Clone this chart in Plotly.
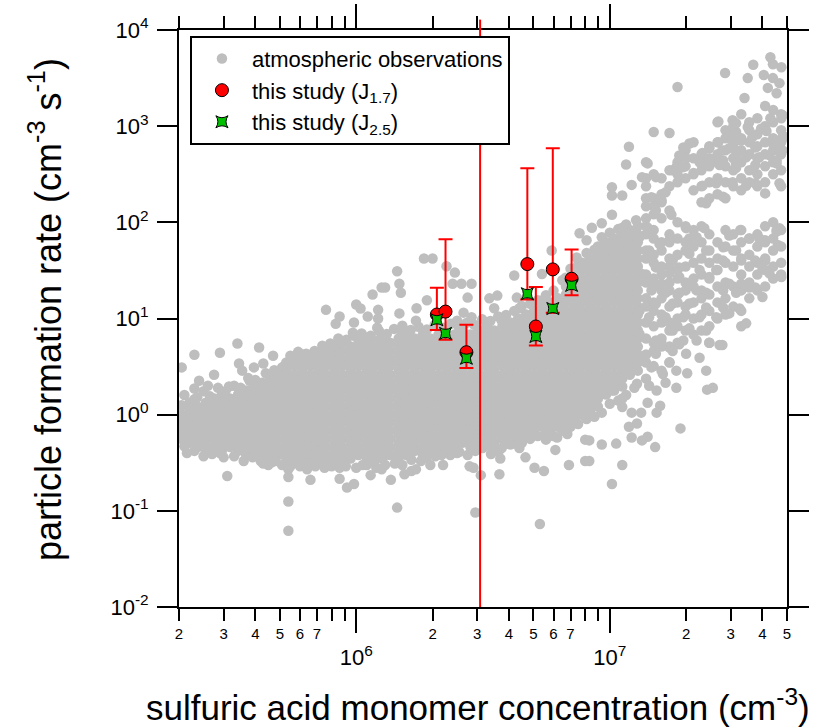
import plotly.graph_objects as go

# ---------------- this study ----------------
conc = [2.08e6, 2.25e6, 2.72e6, 4.73e6, 5.11e6, 5.96e6, 7.07e6]
j17 = [11.0, 11.8, 4.46, 36.8, 8.26, 32.4, 25.9]
j17_upper = [20.9, 66.5, 8.6, 365, 21.2, 590, 52.3]
j17_lower = [7.6, 6.0, 3.06, 15.8, 5.24, 11.5, 17.4]
j25 = [9.7, 7.0, 3.86, 18.1, 6.5, 12.7, 22.1]
run_line_conc = [3.08e6]

# ---------------- atmospheric observations ----------------
obs_core_left = [
    (2.05e5, [1.0, 0.83, 0.68, 0.56]),
    (2.2e5, [1.33, 1.1, 0.91, 0.75, 0.62, 0.51]),
    (2.37e5, [1.21, 1.0, 0.83, 0.68, 0.56, 0.46]),
    (2.55e5, [1.33, 1.1, 0.91, 0.75, 0.62, 0.51, 0.42]),
    (2.75e5, [1.47, 1.21, 1.0, 0.83, 0.68, 0.56, 0.46]),
    (2.95e5, [1.62, 1.33, 1.1, 0.91, 0.75, 0.62, 0.51, 0.42]),
    (3.18e5, [1.47, 1.21, 1.0, 0.83, 0.68, 0.56, 0.46]),
    (3.42e5, [1.62, 1.33, 1.1, 0.91, 0.75, 0.62, 0.51, 0.42]),
    (3.68e5, [1.78, 1.47, 1.21, 1.0, 0.83, 0.68, 0.56, 0.46, 0.38]),
    (3.95e5, [1.96, 1.62, 1.33, 1.1, 0.91, 0.75, 0.62, 0.51, 0.42]),
    (4.25e5, [2.15, 1.78, 1.47, 1.21, 1.0, 0.83, 0.68, 0.56, 0.46, 0.38]),
    (4.57e5, [2.37, 1.96, 1.62, 1.33, 1.1, 0.91, 0.75, 0.62, 0.51, 0.42, 0.35]),
    (4.92e5, [2.6, 2.15, 1.78, 1.47, 1.21, 1.0, 0.83, 0.68, 0.56, 0.46, 0.38]),
    (5.3e5, [3.48, 2.87, 2.37, 1.96, 1.62, 1.33, 1.1, 0.91, 0.75, 0.62, 0.51, 0.42, 0.35]),
    (5.7e5, [3.8, 3.2, 2.6, 2.15, 1.78, 1.47, 1.21, 1.0, 0.83, 0.68, 0.56, 0.46, 0.38, 0.32]),
    (6.13e5, [4.22, 3.48, 2.87, 2.37, 1.96, 1.62, 1.33, 1.1, 0.91, 0.75, 0.62, 0.51, 0.42, 0.35]),
    (6.6e5, [3.8, 3.2, 2.6, 2.15, 1.78, 1.47, 1.21, 1.0, 0.83, 0.68, 0.56, 0.46, 0.38, 0.32]),
    (7.1e5, [4.22, 3.48, 2.87, 2.37, 1.96, 1.62, 1.33, 1.1, 0.91, 0.75, 0.62, 0.51, 0.42, 0.35]),
    (7.6e5, [4.6, 3.8, 3.2, 2.6, 2.15, 1.78, 1.47, 1.21, 1.0, 0.83, 0.68, 0.56, 0.46, 0.38, 0.32]),
    (8.2e5, [5.1, 4.22, 3.48, 2.87, 2.37, 1.96, 1.62, 1.33, 1.1, 0.91, 0.75, 0.62, 0.51, 0.42, 0.35]),
    (8.8e5, [5.6, 4.6, 3.8, 3.2, 2.6, 2.15, 1.78, 1.47, 1.21, 1.0, 0.83, 0.68, 0.56, 0.46, 0.38, 0.32]),
    (9.5e5, [5.1, 4.22, 3.48, 2.87, 2.37, 1.96, 1.62, 1.33, 1.1, 0.91, 0.75, 0.62, 0.51, 0.42, 0.35]),
]

obs_core_mid = [
    (1.02e6, [5.6, 4.6, 3.8, 3.2, 2.6, 2.15, 1.78, 1.47, 1.21, 1.0, 0.83, 0.68, 0.56, 0.46, 0.38]),
    (1.1e6, [6.2, 5.1, 4.22, 3.48, 2.87, 2.37, 1.96, 1.62, 1.33, 1.1, 0.91, 0.75, 0.62, 0.51, 0.42, 0.35]),
    (1.18e6, [5.6, 4.6, 3.8, 3.2, 2.6, 2.15, 1.78, 1.47, 1.21, 1.0, 0.83, 0.68, 0.56, 0.46, 0.38, 0.32]),
    (1.27e6, [6.2, 5.1, 4.22, 3.48, 2.87, 2.37, 1.96, 1.62, 1.33, 1.1, 0.91, 0.75, 0.62, 0.51, 0.42, 0.35]),
    (1.36e6, [5.6, 4.6, 3.8, 3.2, 2.6, 2.15, 1.78, 1.47, 1.21, 1.0, 0.83, 0.68, 0.56, 0.46, 0.38]),
    (1.47e6, [6.2, 5.1, 4.22, 3.48, 2.87, 2.37, 1.96, 1.62, 1.33, 1.1, 0.91, 0.75, 0.62, 0.51, 0.42, 0.35]),
    (1.58e6, [6.8, 5.6, 4.6, 3.8, 3.2, 2.6, 2.15, 1.78, 1.47, 1.21, 1.0, 0.83, 0.68, 0.56, 0.46, 0.38]),
    (1.7e6, [6.2, 5.1, 4.22, 3.48, 2.87, 2.37, 1.96, 1.62, 1.33, 1.1, 0.91, 0.75, 0.62, 0.51, 0.42]),
    (1.83e6, [6.8, 5.6, 4.6, 3.8, 3.2, 2.6, 2.15, 1.78, 1.47, 1.21, 1.0, 0.83, 0.68, 0.56, 0.46, 0.38]),
    (1.96e6, [6.2, 5.1, 4.22, 3.48, 2.87, 2.37, 1.96, 1.62, 1.33, 1.1, 0.91, 0.75, 0.62, 0.51, 0.42]),
    (2.11e6, [6.8, 5.6, 4.6, 3.8, 3.2, 2.6, 2.15, 1.78, 1.47, 1.21, 1.0, 0.83, 0.68, 0.56, 0.46]),
    (2.27e6, [6.2, 5.1, 4.22, 3.48, 2.87, 2.37, 1.96, 1.62, 1.33, 1.1, 0.91, 0.75, 0.62, 0.51, 0.42]),
    (2.44e6, [6.8, 5.6, 4.6, 3.8, 3.2, 2.6, 2.15, 1.78, 1.47, 1.21, 1.0, 0.83, 0.68, 0.56, 0.46]),
    (2.62e6, [7.5, 6.2, 5.1, 4.22, 3.48, 2.87, 2.37, 1.96, 1.62, 1.33, 1.1, 0.91, 0.75, 0.62, 0.51]),
    (2.82e6, [6.8, 5.6, 4.6, 3.8, 3.2, 2.6, 2.15, 1.78, 1.47, 1.21, 1.0, 0.83, 0.68, 0.56, 0.46]),
    (3.03e6, [7.5, 6.2, 5.1, 4.22, 3.48, 2.87, 2.37, 1.96, 1.62, 1.33, 1.1, 0.91, 0.75, 0.62, 0.51]),
    (3.26e6, [8.3, 6.8, 5.6, 4.6, 3.8, 3.2, 2.6, 2.15, 1.78, 1.47, 1.21, 1.0, 0.83, 0.68, 0.56]),
    (3.5e6, [7.5, 6.2, 5.1, 4.22, 3.48, 2.87, 2.37, 1.96, 1.62, 1.33, 1.1, 0.91, 0.75, 0.62, 0.51]),
    (3.77e6, [8.3, 6.8, 5.6, 4.6, 3.8, 3.2, 2.6, 2.15, 1.78, 1.47, 1.21, 1.0, 0.83, 0.68, 0.56]),
    (4.05e6, [9.1, 7.5, 6.2, 5.1, 4.22, 3.48, 2.87, 2.37, 1.96, 1.62, 1.33, 1.1, 0.91, 0.75, 0.62]),
    (4.35e6, [10, 8.3, 6.8, 5.6, 4.6, 3.8, 3.2, 2.6, 2.15, 1.78, 1.47, 1.21, 1.0, 0.83, 0.68, 0.56]),
    (4.68e6, [11, 9.1, 7.5, 6.2, 5.1, 4.22, 3.48, 2.87, 2.37, 1.96, 1.62, 1.33, 1.1, 0.91, 0.75, 0.62]),
    (5.03e6, [12, 10, 8.3, 6.8, 5.6, 4.6, 3.8, 3.2, 2.6, 2.15, 1.78, 1.47, 1.21, 1.0, 0.83, 0.68]),
    (5.41e6, [13.3, 11, 9.1, 7.5, 6.2, 5.1, 4.22, 3.48, 2.87, 2.37, 1.96, 1.62, 1.33, 1.1, 0.91, 0.75]),
    (5.82e6, [14.7, 12, 10, 8.3, 6.8, 5.6, 4.6, 3.8, 3.2, 2.6, 2.15, 1.78, 1.47, 1.21, 1.0, 0.83, 0.68]),
    (6.25e6, [16.2, 13.3, 11, 9.1, 7.5, 6.2, 5.1, 4.22, 3.48, 2.87, 2.37, 1.96, 1.62, 1.33, 1.1, 0.91, 0.75]),
]

obs_core_right = [
    (6.72e6, [21.5, 17.8, 14.7, 12, 10, 8.3, 6.8, 5.6, 4.6, 3.8, 3.2, 2.6, 2.15, 1.78, 1.47, 1.21, 1.0, 0.83]),
    (7.23e6, [28.7, 23.7, 19.6, 16.2, 13.3, 11, 9.1, 7.5, 6.2, 5.1, 4.22, 3.48, 2.87, 2.37, 1.96, 1.62, 1.33, 1.1, 0.91]),
    (7.77e6, [38, 32, 26, 21.5, 17.8, 14.7, 12, 10, 8.3, 6.8, 5.6, 4.6, 3.8, 3.2, 2.6, 2.15, 1.78, 1.47, 1.21, 1.0]),
    (8.35e6, [42, 34.8, 28.7, 23.7, 19.6, 16.2, 13.3, 11, 9.1, 7.5, 6.2, 5.1, 4.22, 3.48, 2.87, 2.37, 1.96, 1.62, 1.33, 1.1]),
    (8.98e6, [56, 46, 38, 32, 26, 21.5, 17.8, 14.7, 12, 10, 8.3, 6.8, 5.6, 4.6, 3.8, 3.2, 2.6, 2.15, 1.78, 1.47, 1.21]),
    (9.66e6, [62, 51, 42, 34.8, 28.7, 23.7, 19.6, 16.2, 13.3, 11, 9.1, 7.5, 6.2, 5.1, 4.22, 3.48, 2.87, 2.37, 1.96, 1.62]),
    (1.04e7, [68, 56, 46, 38, 32, 26, 21.5, 17.8, 14.7, 12, 10, 8.3, 6.8, 5.6, 4.6, 3.8, 3.2, 2.6, 2.15, 1.78]),
    (1.12e7, [75, 62, 51, 42, 34.8, 28.7, 23.7, 19.6, 16.2, 13.3, 11, 9.1, 7.5, 6.2, 5.1, 4.22, 3.48, 2.87, 2.37, 1.96]),
    (1.2e7, [83, 68, 56, 46, 38, 32, 26, 21.5, 17.8, 14.7, 12, 10, 8.3, 6.8, 5.6, 4.6, 3.8, 3.2, 2.6]),
    (1.29e7, [91, 75, 62, 51, 42, 34.8, 28.7, 23.7, 19.6, 16.2, 13.3, 11, 9.1, 7.5, 6.2, 5.1, 4.22, 3.48, 2.87]),
]

obs_branches = [
    (1.39e7, [422, 287, 237, 178, 147, 110, 91, 75, 51, 42, 28.7, 23.7, 16.2, 13.3, 9.1, 6.2, 4.22, 3.48, 2.37]),
    (1.49e7, [316, 178, 147, 121, 83, 68, 46, 38, 26, 21.5, 14.7, 12, 8.3, 5.6, 4.6, 3.2]),
    (1.6e7, [287, 196, 162, 110, 62, 51, 34.8, 28.7, 19.6, 16.2, 11, 9.1, 6.2, 5.1, 2.87]),
    (1.72e7, [348, 237, 133, 75, 62, 42, 34.8, 23.7, 19.6, 13.3, 9.1, 7.5, 5.1, 3.48]),
    (1.85e7, [422, 316, 261, 100, 68, 46, 32, 26, 17.8, 14.7, 10, 8.3, 5.6]),
    (1.99e7, [562, 383, 287, 91, 62, 51, 34.8, 23.7, 19.6, 13.3, 11, 7.5]),
    (2.14e7, [681, 464, 316, 215, 83, 56, 38, 26, 21.5, 14.7, 10, 6.8]),
    (2.3e7, [511, 422, 348, 237, 162, 91, 62, 42, 28.7, 19.6, 16.2, 11, 7.5]),
    (2.47e7, [619, 464, 383, 261, 178, 75, 51, 38, 26, 17.8, 12, 8.3, 5.6]),
    (2.66e7, [1100, 681, 511, 422, 287, 196, 62, 42, 32, 21.5, 14.7, 10]),
    (2.86e7, [909, 750, 562, 383, 261, 178, 83, 56, 38, 23.7, 16.2, 11]),
    (3.07e7, [1000, 825, 619, 464, 348, 237, 75, 51, 34.8, 21.5, 13.3]),
    (3.3e7, [1330, 750, 562, 422, 287, 215, 83, 62, 42, 28.7, 19.6, 12, 8.3]),
    (3.55e7, [1100, 909, 681, 511, 348, 261, 68, 46, 34.8, 23.7, 16.2]),
    (3.82e7, [1210, 825, 619, 464, 316, 237, 75, 56, 38, 28.7, 19.6]),
    (4.1e7, [1620, 1000, 681, 511, 383, 261, 91, 62, 42, 32, 21.5]),
    (4.41e7, [1470, 1100, 750, 562, 422, 316, 100, 68, 51, 34.8, 26]),
    (4.74e7, [1330, 909, 681, 511, 348, 237, 83, 56, 38, 28.7]),
]

obs_edges = [
    (2.1e5, 1.6), (2.3e5, 1.45), (2.5e5, 1.75), (2.65e5, 1.55), (2.85e5, 1.9), (3.05e5, 1.75),
    (3.3e5, 2.0), (3.5e5, 1.9), (3.75e5, 2.4), (4.0e5, 2.3), (4.4e5, 2.7), (4.75e5, 2.9),
    (5.1e5, 3.1), (5.5e5, 4.1), (5.9e5, 4.5), (6.35e5, 4.3), (6.85e5, 4.6), (7.35e5, 5.2),
    (7.9e5, 5.5), (8.5e5, 6.2), (9.15e5, 6.0), (9.8e5, 6.6),
    (1.05e6, 7.0), (1.14e6, 6.6), (1.23e6, 7.4), (1.32e6, 6.9), (1.41e6, 7.8), (1.52e6, 8.4),
    (1.64e6, 7.6), (1.76e6, 8.2), (1.9e6, 7.7), (2.04e6, 8.6), (2.2e6, 8.0), (2.36e6, 8.8),
    (2.53e6, 8.3), (2.72e6, 9.0), (2.92e6, 8.6), (3.14e6, 9.8), (3.38e6, 9.4), (3.63e6, 10.5),
    (3.9e6, 10.9), (4.2e6, 12), (4.5e6, 13.5), (4.85e6, 14.2), (5.2e6, 15.5), (5.6e6, 17.5),
    (6.0e6, 19.5), (6.5e6, 25), (7.0e6, 33), (7.5e6, 36), (8.1e6, 48), (8.7e6, 52), (9.3e6, 70),
    (1.0e7, 78), (1.08e7, 85), (1.16e7, 95),
    (2.1e5, 0.47), (2.3e5, 0.42), (2.5e5, 0.37), (2.7e5, 0.39), (3.0e5, 0.36), (3.3e5, 0.37),
    (3.6e5, 0.33), (3.9e5, 0.36), (4.2e5, 0.33), (4.5e5, 0.30), (4.8e5, 0.33), (5.1e5, 0.30),
    (5.5e5, 0.29), (6.0e5, 0.29), (6.4e5, 0.3), (6.9e5, 0.29), (7.4e5, 0.31), (8.0e5, 0.29),
    (8.5e5, 0.31), (9.1e5, 0.29), (1.0e6, 0.28), (1.1e6, 0.30), (1.2e6, 0.28), (1.3e6, 0.3),
    (1.42e6, 0.31), (1.52e6, 0.30), (1.65e6, 0.34), (1.8e6, 0.33), (1.9e6, 0.36), (2.05e6, 0.37),
    (2.35e6, 0.38), (2.55e6, 0.41), (2.75e6, 0.38), (2.95e6, 0.42), (3.15e6, 0.45), (3.4e6, 0.47),
    (3.65e6, 0.42), (3.9e6, 0.53), (4.2e6, 0.5), (4.5e6, 0.51), (4.85e6, 0.56), (5.2e6, 0.6),
    (5.6e6, 0.63), (6.0e6, 0.6), (6.5e6, 0.68), (7.0e6, 0.75), (7.5e6, 0.8), (8.1e6, 0.9),
    (8.7e6, 0.95), (9.3e6, 1.05), (1.0e7, 1.3), (1.08e7, 1.4), (1.16e7, 1.6), (1.25e7, 1.9),
]

obs_sparse_low_conc = [
    (1.26e6, 21), (1.16e6, 17.8), (1.0e6, 14), (1.04e6, 12.7), (7.6e5, 12.3), (8.6e5, 10.5),
    (1.11e6, 10.5), (1.22e6, 12.3), (8.3e5, 8.8), (9.8e5, 9.1), (1.22e6, 10), (1.21e6, 8.0),
    (9.7e5, 7.1), (1.09e6, 6.3), (1.22e6, 5.9), (3.4e5, 5.5), (4.14e5, 5.0), (2.9e5, 4.4),
    (2.3e5, 4.2), (4.7e5, 4.1), (8.1e5, 5.0), (7.9e5, 4.4), (8.6e5, 4.4), (2.05e5, 3.1),
    (3.45e5, 3.4), (3.95e5, 3.1), (4.3e5, 3.4), (3.55e5, 2.87), (5.2e5, 3.2), (5.8e5, 3.3),
    (6.6e5, 3.6), (5.0e5, 2.5), (2.75e5, 2.6), (2.4e5, 2.25), (2.6e5, 2.0), (3.8e5, 2.25),
    (3.15e5, 1.96), (2.3e5, 1.87), (2.36e5, 1.52), (3.85e5, 1.78), (3.0e5, 1.33), (2.05e5, 1.25),
    (2.2e5, 1.15), (2.75e5, 1.15), (3.3e5, 1.3),
    (1.85e6, 42), (2.0e6, 42), (1.45e6, 31), (2.27e6, 35), (2.45e6, 30), (2.4e6, 23), (1.48e6, 23),
    (1.5e6, 18.5), (1.3e6, 21), (1.9e6, 15.5), (1.73e6, 12.8), (1.48e6, 11.3), (2.6e6, 23),
    (2.85e6, 23), (2.75e6, 16.5), (2.65e6, 11.5), (2.5e6, 9.5), (2.85e6, 10.3), (1.5e6, 7.5),
    (1.72e6, 9.5), (3.6e6, 17.3), (3.35e6, 16.2), (4.2e6, 28), (3.5e6, 12.8), (4.1e6, 8.0),
    (3.75e6, 9.5), (4.4e6, 12.8), (5.9e6, 51), (7.6e6, 77), (7.4e6, 43), (8.1e6, 65), (7.9e6, 37),
    (8.5e6, 32), (5.4e6, 29), (6.7e6, 26.5), (5.55e6, 16.2), (6.2e6, 14.7), (4.3e6, 16.5),
    (2.15e5, 0.40), (2.4e5, 0.49), (2.6e5, 0.44), (2.9e5, 0.40), (3.1e5, 0.23), (4.3e5, 0.31),
    (4.65e5, 0.32), (5.4e5, 0.27), (5.4e5, 0.225), (6.6e5, 0.21), (6.4e5, 0.27), (7.5e5, 0.28),
    (8.6e5, 0.28), (8.6e5, 0.215), (9.2e5, 0.175), (9.8e5, 0.19), (1.06e6, 0.30), (1.14e6, 0.235),
    (1.26e6, 0.27), (5.4e5, 0.125), (5.4e5, 0.062), (1.37e6, 0.21), (1.45e6, 0.108), (1.55e6, 0.24),
    (1.65e6, 0.26), (1.72e6, 0.27), (1.96e6, 0.30), (2.2e6, 0.30), (2.8e6, 0.29), (2.9e6, 0.28),
    (3.1e6, 0.235), (2.95e6, 0.096), (3.67e6, 0.24), (3.7e6, 0.35), (4.65e6, 0.36), (5.05e6, 0.28),
    (5.5e6, 0.26), (5.3e6, 0.073), (6.1e6, 0.43), (6.9e6, 0.30), (8.0e6, 0.33), (3.4e6, 0.39),
    (3.75e6, 0.45), (4.05e6, 0.49), (8.0e6, 0.55), (6.2e6, 0.58), (6.8e6, 0.63), (3.5e6, 0.42),
    (2.17e6, 0.38), (2.5e6, 0.40), (4.4e6, 0.45), (5.6e6, 0.55),
]

obs_sparse_high_conc = [
    (1.77e7, 348), (1.95e7, 375), (2.14e7, 325), (1.95e7, 600), (2.06e7, 660), (1.88e7, 495),
    (2.0e7, 464), (1.83e7, 375), (1.72e7, 850), (1.85e7, 2550), (2.26e7, 422), (2.32e7, 240),
    (2.4e7, 158), (2.32e7, 525), (2.47e7, 590), (2.47e7, 440), (2.68e7, 680), (2.78e7, 560),
    (2.71e7, 395), (2.63e7, 255), (2.8e7, 185), (2.8e7, 440), (2.68e7, 1120), (3.05e7, 261),
    (3.45e7, 240), (3.75e7, 255), (3.15e7, 410), (3.75e7, 395), (2.96e7, 590), (3.15e7, 500),
    (3.45e7, 475), (3.89e7, 475), (3.15e7, 370), (3.05e7, 710), (3.3e7, 710), (3.65e7, 765),
    (3.75e7, 600), (3.15e7, 870), (3.5e7, 980), (3.95e7, 940), (3.05e7, 1150), (3.15e7, 1070),
    (3.4e7, 1960), (3.5e7, 3160), (3.68e7, 4350), (2.85e7, 3570), (4.05e7, 3400), (4.1e7, 200),
    (4.15e7, 890), (4.3e7, 1210), (4.75e7, 1210), (4.8e7, 1300), (4.4e7, 660), (4.8e7, 770),
    (4.55e7, 560), (4.8e7, 560), (4.26e7, 500), (4.55e7, 440), (4.67e7, 255), (4.55e7, 410),
    (4.2e7, 2500), (4.55e7, 2200), (4.67e7, 2800), (4.4e7, 3160), (4.75e7, 4100), (4.4e7, 4400),
    (4.3e7, 5200), (4.9e7, 770), (4.45e7, 660), (4.67e7, 560),
    (1.02e7, 232), (1.02e7, 190), (1.12e7, 190), (1.22e7, 245), (1.34e7, 295), (1.52e7, 295),
    (1.66e7, 205), (1.46e7, 182), (1.6e7, 170), (1.52e7, 133), (1.75e7, 120), (9.3e6, 98),
    (8.5e6, 88), (1.02e7, 120), (1.12e7, 88), (1.27e7, 105), (1.41e7, 88), (1.16e7, 400),
    (1.41e7, 410), (1.19e7, 610), (1.49e7, 870), (1.31e7, 70), (1.19e7, 55), (1.0e7, 60),
    (1.43e7, 51), (1.57e7, 60), (1.72e7, 65), (1.52e7, 34), (1.34e7, 29), (1.12e7, 45),
    (2.0e7, 87), (2.06e7, 68), (2.36e7, 87), (2.2e7, 70), (2.4e7, 51), (2.8e7, 55), (2.96e7, 73),
    (3.27e7, 83), (3.55e7, 68), (3.89e7, 68), (4.55e7, 83), (4.6e7, 58), (3.15e7, 51), (3.3e7, 40),
    (2.8e7, 40), (2.63e7, 32), (3.75e7, 40), (4.0e7, 34), (4.26e7, 29.5), (4.75e7, 27), (4.1e7, 40),
    (2.06e7, 47), (1.88e7, 34), (1.77e7, 40), (2.26e7, 32), (2.47e7, 27), (2.06e7, 23), (1.88e7, 27),
    (1.72e7, 29.5), (1.6e7, 23), (1.46e7, 19.6), (1.66e7, 18.5), (1.88e7, 18.5), (2.2e7, 19.6),
    (2.4e7, 18.5), (2.8e7, 19.6), (3.15e7, 18.5), (3.55e7, 21), (3.75e7, 21), (4.0e7, 16.7),
    (3.3e7, 23), (2.96e7, 23), (4.55e7, 80), (4.67e7, 87), (4.1e7, 65),
    (1.52e7, 14.3), (1.77e7, 14.3), (2.06e7, 14.3), (2.4e7, 13), (2.8e7, 13), (3.25e7, 12.7),
    (3.45e7, 8.9), (2.96e7, 11.3), (2.63e7, 10.3), (2.26e7, 10.3), (1.95e7, 10.3), (1.66e7, 10.3),
    (1.43e7, 10.3), (1.31e7, 12), (1.77e7, 7.5), (2.06e7, 7.9), (2.4e7, 7.5), (2.47e7, 5.6),
    (2.78e7, 5.3), (2.2e7, 5.9), (1.95e7, 5.9), (1.72e7, 5.0), (1.52e7, 5.9), (1.31e7, 6.9),
    (2.71e7, 5.3), (2.26e7, 3.9), (2.4e7, 2.87), (2.55e7, 1.9), (2.42e7, 1.82), (2.02e7, 2.7),
    (1.83e7, 1.9), (1.9e7, 0.72), (1.72e7, 3.5), (2.0e7, 4.3), (1.77e7, 4.6), (1.88e7, 5.4),
    (1.83e7, 2.87), (1.62e7, 2.65), (1.66e7, 2.15), (1.53e7, 1.78), (1.43e7, 2.0), (1.28e7, 2.1),
    (1.41e7, 1.33), (1.58e7, 1.24), (1.53e7, 1.05), (1.33e7, 1.05), (1.22e7, 1.05), (1.12e7, 1.47),
    (1.28e7, 0.81), (1.19e7, 0.75), (1.22e7, 0.58), (1.34e7, 0.54), (1.41e7, 0.59), (1.51e7, 0.46),
    (1.06e7, 0.5), (9.3e6, 0.49), (8.3e6, 0.54), (8.3e6, 0.33), (1.12e7, 0.30), (1.02e7, 0.19),
    (1.19e7, 2.87), (1.06e7, 2.3), (1.46e7, 3.1), (1.34e7, 3.65), (1.22e7, 4.3), (1.52e7, 4.3),
    (1.6e7, 5.5), (1.12e7, 5.5), (1.02e7, 1.78), (1.12e7, 1.2),
]

# ---------------- axis ticks ----------------
x_label_vals = [2e5, 3e5, 4e5, 5e5, 6e5, 7e5, 2e6, 3e6, 4e6, 5e6, 6e6, 7e6, 2e7, 3e7, 4e7, 5e7]
x_label_text = ["2", "3", "4", "5", "6", "7", "2", "3", "4", "5", "6", "7", "2", "3", "4", "5"]
x_unlabeled_vals = [8e5, 9e5, 8e6, 9e6]
x_decades = [1e6, 1e7]
x_decade_text = ["10<sup>6</sup>", "10<sup>7</sup>"]
y_tick_vals = [1e-2, 1e-1, 1e0, 1e1, 1e2, 1e3, 1e4]
y_tick_text = ["10<sup>-2</sup>", "10<sup>-1</sup>", "10<sup>0</sup>", "10<sup>1</sup>",
               "10<sup>2</sup>", "10<sup>3</sup>", "10<sup>4</sup>"]

# ---------------- assemble ----------------
obs_x, obs_y = [], []
for group in (obs_core_left, obs_core_mid, obs_core_right, obs_branches):
    for xv, ys in group:
        for yv in ys:
            obs_x.append(xv)
            obs_y.append(yv)
for group in (obs_edges, obs_sparse_low_conc, obs_sparse_high_conc):
    for xv, yv in group:
        obs_x.append(xv)
        obs_y.append(yv)

err_plus = [h - v for h, v in zip(j17_upper, j17)]
err_minus = [v - l for v, l in zip(j17, j17_lower)]

FONT = "Liberation Sans, Arial, sans-serif"

fig = go.Figure()
fig.add_trace(go.Scatter(
    x=obs_x, y=obs_y, mode="markers", name="atmospheric observations",
    marker=dict(color="#bebebe", size=10.5, line=dict(width=0)),
))
fig.add_trace(go.Scatter(
    x=conc, y=j17, mode="markers", name="this study (J<sub>1.7</sub>)",
    marker=dict(color="#ff0000", size=13, line=dict(color="black", width=1)),
    error_y=dict(type="data", symmetric=False, array=err_plus, arrayminus=err_minus,
                 color="#ff0000", thickness=2, width=7),
))
fig.add_trace(go.Scatter(
    x=conc, y=j25, mode="markers", name="this study (J<sub>2.5</sub>)",
    marker=dict(color="#00c000", size=11, symbol="star-square", line=dict(color="black", width=1)),
))
fig.add_trace(go.Scatter(
    x=[run_line_conc[0], run_line_conc[0]], y=[1e-3, 1e5], mode="lines",
    line=dict(color="#ff0000", width=2), showlegend=False, xaxis="x2", hoverinfo="skip",
))

x_range = [5.30103, 7.69897]
fig.update_layout(
    width=822, height=728,
    margin=dict(l=179, r=35, t=30, b=121, autoexpand=False),
    paper_bgcolor="white", plot_bgcolor="white",
    font=dict(family=FONT, color="black"),
    showlegend=True,
    legend=dict(
        x=0.018, y=0.99, xanchor="left", yanchor="top",
        bgcolor="white", bordercolor="black", borderwidth=2,
        font=dict(size=22, family=FONT, color="black"),
        itemwidth=50, tracegroupgap=0,
    ),
    shapes=[dict(type="line", xref="x", yref="paper", x0=run_line_conc[0], x1=run_line_conc[0],
                 y0=1.0, y1=1.018, line=dict(color="#ff0000", width=2))],
    xaxis=dict(
        type="log", range=x_range, tickmode="array", tickvals=x_label_vals, ticktext=x_label_text,
        ticks="outside", ticklen=12, tickwidth=2, tickcolor="black",
        minor=dict(tickmode="array", tickvals=x_unlabeled_vals, ticks="outside", ticklen=12,
                   tickwidth=2, tickcolor="black", showgrid=False),
        showline=True, linewidth=2, linecolor="black", mirror="allticks",
        showgrid=False, zeroline=False, tickfont=dict(size=15, family=FONT, color="black"),
        ticklabelstandoff=0, automargin=False,
    ),
    xaxis2=dict(
        type="log", range=x_range, overlaying="x", anchor="y", side="bottom",
        tickmode="array", tickvals=x_decades, ticktext=x_decade_text,
        ticks="outside", ticklen=24, tickwidth=2, tickcolor="black",
        showline=True, linewidth=2, linecolor="black", mirror="ticks",
        showgrid=False, zeroline=False, tickfont=dict(size=22, family=FONT, color="black"),
        ticklabelstandoff=6, automargin=False,
    ),
    yaxis=dict(
        type="log", range=[-2, 4], tickmode="array", tickvals=y_tick_vals, ticktext=y_tick_text,
        ticks="outside", ticklen=20, tickwidth=2, tickcolor="black",
        showline=True, linewidth=2, linecolor="black", mirror="allticks",
        showgrid=False, zeroline=False, tickfont=dict(size=22, family=FONT, color="black"),
        ticklabelstandoff=4, automargin=False,
    ),
    annotations=[
        dict(text="sulfuric acid monomer concentration (cm<sup>-3</sup>)",
             xref="paper", yref="paper", x=0.492, y=-0.17, xanchor="center", yanchor="middle",
             showarrow=False, font=dict(size=35, family=FONT, color="black")),
        dict(text="particle formation rate (cm<sup>-3</sup> s<sup>-1</sup>)",
             xref="paper", yref="paper", x=-0.22, y=0.515, xanchor="center", yanchor="middle",
             textangle=-90, showarrow=False, font=dict(size=36, family=FONT, color="black")),
    ],
)

fig.write_html("out.html")
